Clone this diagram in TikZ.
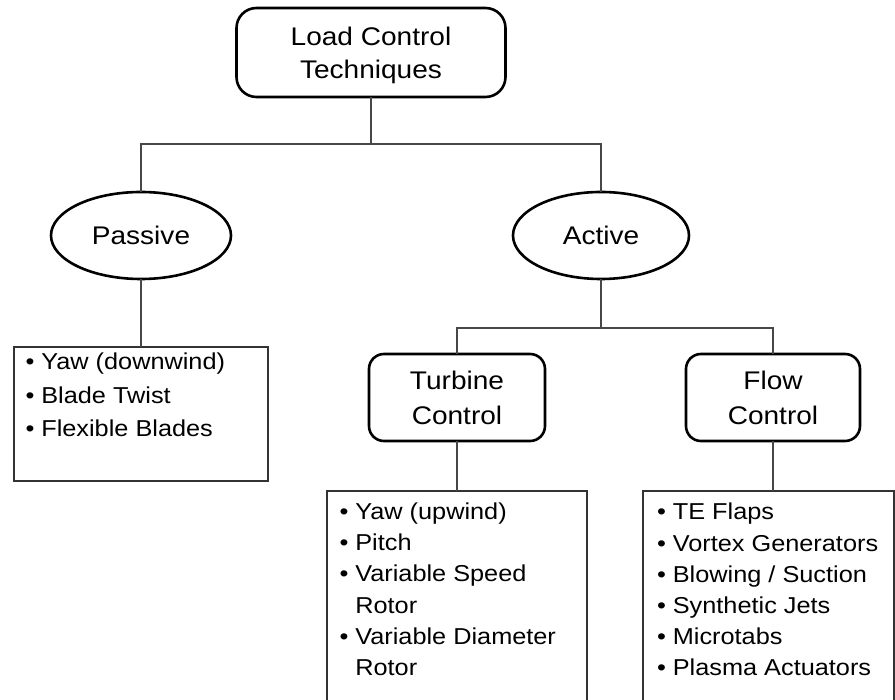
\documentclass[tikz,border=0pt]{standalone}
\usepackage{fontspec}
\setmainfont{Liberation Sans}[FakeStretch=1.1]
\usetikzlibrary{shapes.geometric}
\newcommand{\labfont}{\fontsize{25.5}{33}\selectfont}
\newcommand{\sublabfont}{\fontsize{25.5}{35}\selectfont}
\newcommand{\listfontA}{\fontsize{23}{33.5}\selectfont}
\newcommand{\listfontB}{\fontsize{23}{31.2}\selectfont}
\begin{document}
\begin{tikzpicture}[x=1pt,y=-1pt,
  every node/.style={inner sep=0pt, outer sep=0pt},
  conn/.style={draw=black!72, line width=1.7pt},
  rbox/.style={draw=black, line width=2.6pt, rounded corners=#1, align=center},
  oval/.style={draw=black, ellipse, line width=2.6pt, font=\labfont},
  lbox/.style={draw=black!80, line width=1.8pt},
  ltext/.style={anchor=base west}
]
\useasboundingbox (0,0) rectangle (895,700);

% main nodes
\node[rbox=20pt, font=\labfont, text depth=0pt, minimum width=269pt, minimum height=89pt] (top) at (371,52.5) {Load Control\\Techniques};
\node[oval, minimum width=180pt, minimum height=87pt] (passive) at (141,235.5) {Passive};
\node[oval, minimum width=176pt, minimum height=87pt] (active) at (601,235.5) {Active};
\node[rbox=15pt, font=\sublabfont, minimum width=176pt, minimum height=87pt] (turbine) at (457,397.5) {Turbine\\Control};
\node[rbox=15pt, font=\sublabfont, minimum width=174pt, minimum height=87pt] (flow) at (773,397.5) {Flow\\Control};

% list boxes
\node[lbox, minimum width=254pt, minimum height=134pt] (plist) at (141,414) {};
\node[lbox, minimum width=260pt, minimum height=219pt] (tlist) at (457,600.5) {};
\node[lbox, minimum width=251pt, minimum height=219pt] (flist) at (768.5,600.5) {};

% list texts
\node[ltext, font=\listfontA] (ptext) at (25.5,370) {\begin{tabular}[t]{@{}l@{\hspace{7pt}}l@{}}
\textbullet & Yaw (downwind)\\
\textbullet & Blade Twist\\
\textbullet & Flexible Blades
\end{tabular}};
\node[ltext, font=\listfontB] (ttext) at (339.5,519.5) {\begin{tabular}[t]{@{}l@{\hspace{7pt}}l@{}}
\textbullet & Yaw (upwind)\\
\textbullet & Pitch\\
\textbullet & Variable Speed\\
 & Rotor\\
\textbullet & Variable Diameter\\
 & Rotor
\end{tabular}};
\node[ltext, font=\listfontB] (ftext) at (657,520) {\begin{tabular}[t]{@{}l@{\hspace{7pt}}l@{}}
\textbullet & TE Flaps\\
\textbullet & Vortex Generators\\
\textbullet & Blowing / Suction\\
\textbullet & Synthetic Jets\\
\textbullet & Microtabs\\
\textbullet & Plasma Actuators
\end{tabular}};

% connectors
\coordinate (j1) at (371,144);
\coordinate (j2) at (601,328);
\draw[conn] (top.south) -- (j1);
\draw[conn] (passive.north) |- (j1) -| (active.north);
\draw[conn] (passive.south) -- (plist.north);
\draw[conn] (active.south) -- (j2);
\draw[conn] (turbine.north) |- (j2) -| (flow.north);
\draw[conn] (turbine.south) -- (tlist.north);
\draw[conn] (flow.south) -- (flow.south |- flist.north);
\end{tikzpicture}
\end{document}
